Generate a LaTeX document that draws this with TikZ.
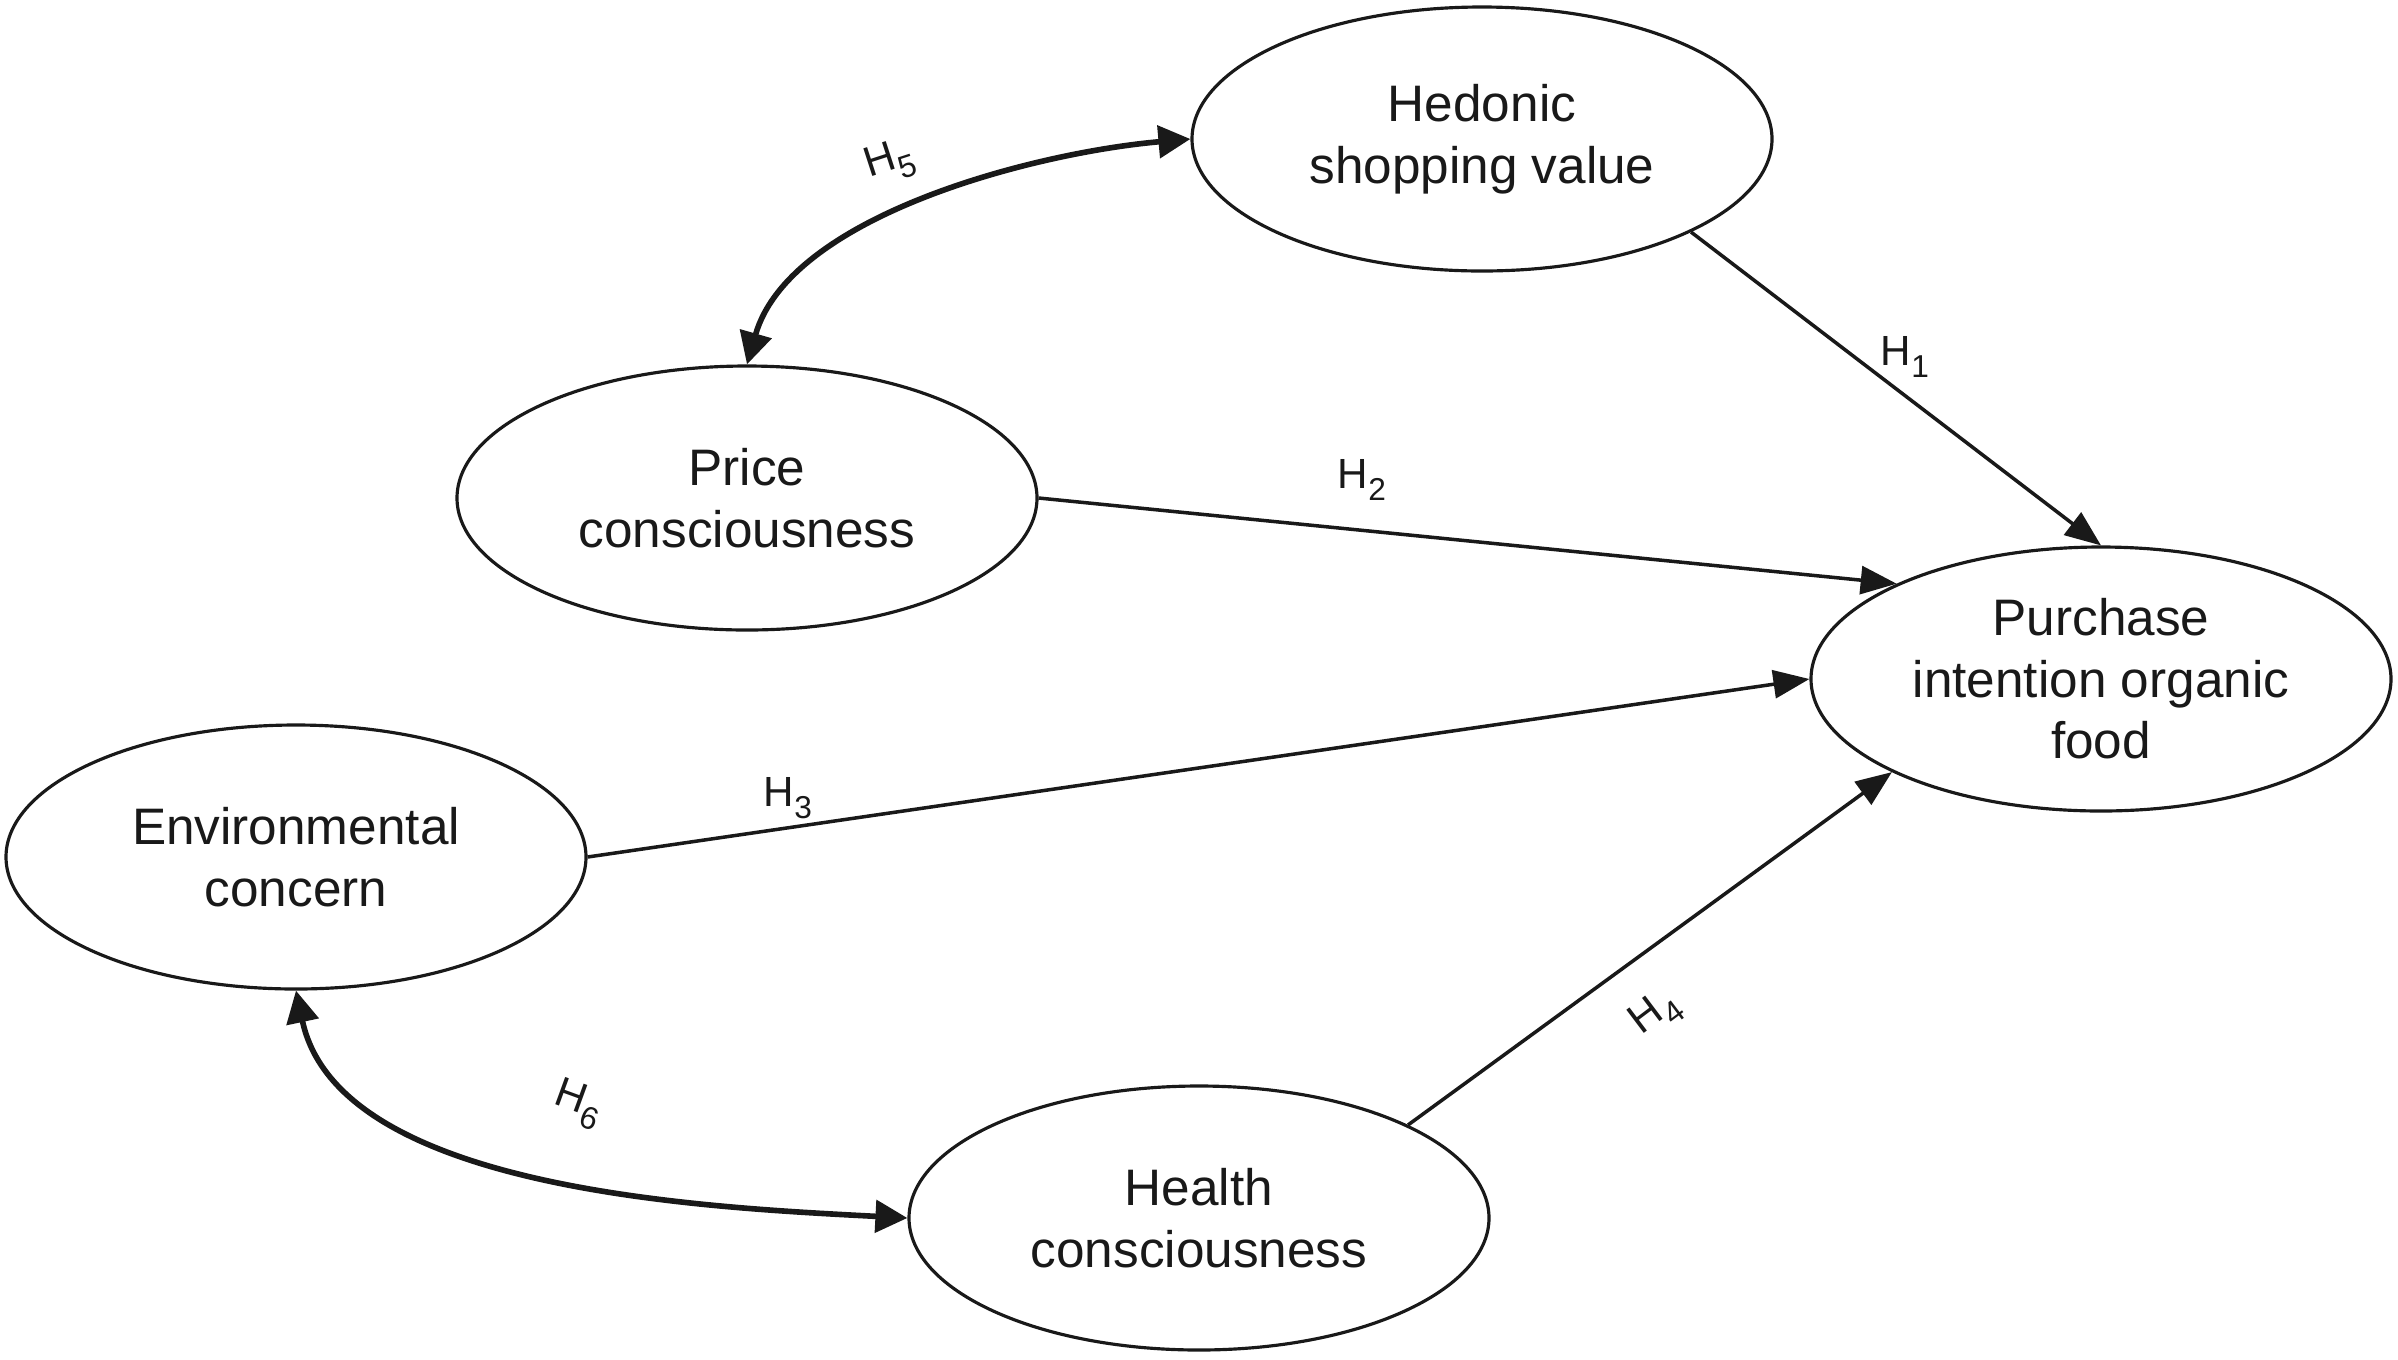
\documentclass[tikz,border=0pt]{standalone}
\usepackage{fontspec}
\setmainfont{Liberation Sans}
\usetikzlibrary{arrows.meta,shapes.geometric}

\newcommand{\hyp}[1]{H\raisebox{-3.5pt}{\fontsize{9}{9}\selectfont #1}}

\begin{document}
\begin{tikzpicture}[
    construct/.style={
        ellipse, draw=black!90, line width=0.9pt, fill=white,
        minimum width=5.8cm, minimum height=2.64cm, inner sep=0pt,
        align=center, text=black!90, font=\fontsize{14.6}{17.5}\selectfont
    },
    link/.style={-{Triangle[length=3.6mm, width=2.8mm]}, line width=1pt, draw=black!90},
    corr/.style={{Triangle[length=3.2mm, width=3.2mm]}-{Triangle[length=3.2mm, width=3.2mm]},
        line width=1.6pt, draw=black!90},
    hlab/.style={font=\fontsize{12}{12}\selectfont, text=black!90, inner sep=1pt}
]
    \useasboundingbox (0,0) rectangle (23.98,-13.59);

    % Constructs
    \node [construct] (hed) at (14.82, -1.39) {Hedonic\\shopping value};
    \node [construct] (price) at (7.47, -4.98) {Price\\consciousness};
    \node [construct] (pur) at (21.01, -6.79) {Purchase\\intention organic\\food};
    \node [construct] (env) at (2.96, -8.57) {Environmental\\concern};
    \node [construct] (health) at (11.99, -12.18) {Health\\consciousness};

    % Direct effects
    \draw [link] (hed.-24.4) -- (pur.north);
    \draw [link] (price.east) -- (pur.155.6);
    \draw [link] (env.east) -- (pur.west);
    \draw [link] (health.24.5) -- (pur.204.4);

    % Correlations
    \draw [corr] (price.north) to[out=74, in=185, looseness=0.8] (hed.west);
    \draw [corr] (env.south) to[out=-78, in=177, looseness=0.8] (health.west);

    % Hypothesis labels
    \node [hlab] (lh1) at (19.05, -3.57) {\hyp{1}};
    \node [hlab] (lh2) at (13.62, -4.80) {\hyp{2}};
    \node [hlab] (lh3) at (7.88, -7.98) {\hyp{3}};
    \node [hlab, rotate=37] (lh4) at (16.56, -10.14) {\hyp{4}};
    \node [hlab, rotate=18] (lh5) at (8.90, -1.62) {\hyp{5}};
    \node [hlab, rotate=-20] (lh6) at (5.78, -11.04) {\hyp{6}};

\end{tikzpicture}
\end{document}
